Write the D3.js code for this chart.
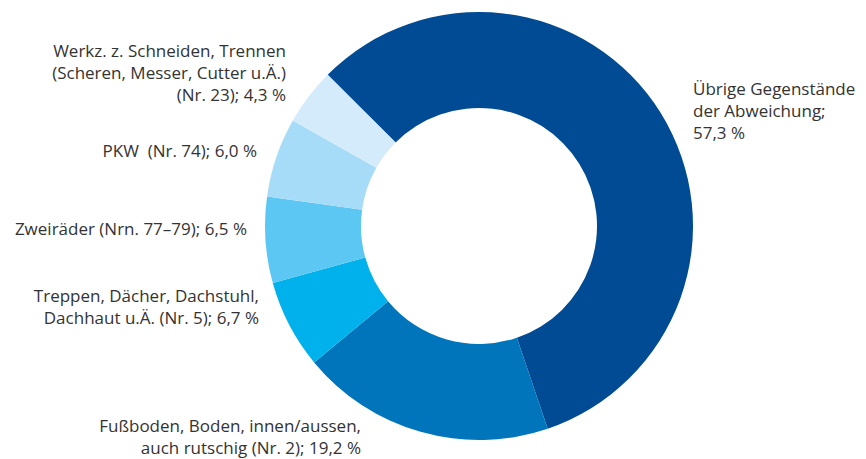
<!DOCTYPE html>
<html>
<head>
<meta charset="utf-8">
<script src="https://cdn.jsdelivr.net/npm/d3@7"></script>
<style>
  html, body { margin: 0; padding: 0; background: #fff; }
  svg { display: block; }
  text { font-family: "Open Sans", "Noto Sans", sans-serif; fill: #333; white-space: pre; }
</style>
</head>
<body>
<svg id="chart" width="866" height="459"></svg>
<script>
// ---- data ----
const categories = [
  "Übrige Gegenstände der Abweichung",
  "Fußboden, Boden, innen/aussen, auch rutschig (Nr. 2)",
  "Treppen, Dächer, Dachstuhl, Dachhaut u.Ä. (Nr. 5)",
  "Zweiräder (Nrn. 77–79)",
  "PKW (Nr. 74)",
  "Werkz. z. Schneiden, Trennen (Scheren, Messer, Cutter u.Ä.) (Nr. 23)"
];
const values = [57.3, 19.2, 6.7, 6.5, 6.0, 4.3];
const labelLines = [
  ["Übrige Gegenstände", "der Abweichung;", "57,3 %"],
  ["Fußboden, Boden, innen/aussen,", "auch rutschig (Nr. 2); 19,2 %"],
  ["Treppen, Dächer, Dachstuhl,", "Dachhaut u.Ä. (Nr. 5); 6,7 %"],
  ["Zweiräder (Nrn. 77–79); 6,5 %"],
  ["PKW  (Nr. 74); 6,0 %"],
  ["Werkz. z. Schneiden, Trennen", "(Scheren, Messer, Cutter u.Ä.)", "(Nr. 23); 4,3 %"]
];

// ---- layout / style ----
const colors = ["#004b93", "#0075bc", "#00b1eb", "#5dc7f3", "#a7dcf8", "#d4ebfb"];
const cx = 479, cy = 226, outerR = 214, innerR = 118;
const lineH = 22;
// label anchor: x, first baseline y, text-anchor
const labelLayout = [
  {x: 693, y: 95, anchor: "start"},
  {x: 361, y: 432, anchor: "end"},
  {x: 259, y: 302, anchor: "end"},
  {x: 247, y: 235, anchor: "end"},
  {x: 257, y: 157, anchor: "end"},
  {x: 286, y: 57, anchor: "end"}
];

const svg = d3.select("#chart");
const data = categories.map((c, i) => ({name: c, value: values[i], i}));

const pie = d3.pie()
  .value(d => d.value)
  .sort(null)
  .startAngle(-Math.PI / 4)
  .endAngle(-Math.PI / 4 + 2 * Math.PI);

const arc = d3.arc().innerRadius(innerR).outerRadius(outerR);

const g = svg.append("g").attr("transform", `translate(${cx},${cy})`);
g.selectAll("path")
  .data(pie(data))
  .join("path")
  .attr("d", arc)
  .attr("fill", d => colors[d.data.i]);

const labels = svg.append("g");
labelLines.forEach((lines, i) => {
  const L = labelLayout[i];
  const t = labels.append("text")
    .attr("text-anchor", L.anchor)
    .attr("font-size", 17);
  lines.forEach((ln, j) => {
    t.append("tspan").attr("x", L.x).attr("y", L.y + j * lineH).text(ln);
  });
});
</script>
</body>
</html>
